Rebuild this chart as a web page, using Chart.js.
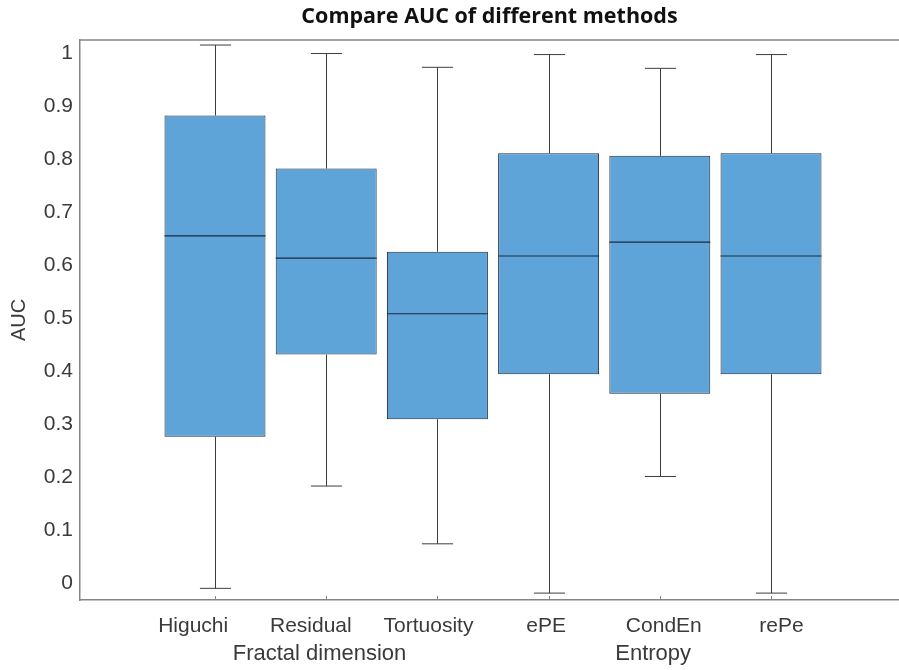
<!DOCTYPE html>
<html>
<head>
<meta charset="utf-8">
<script src="https://cdn.jsdelivr.net/npm/chart.js@4/dist/chart.umd.min.js"></script>
<style>
  html, body { margin: 0; padding: 0; background: #fff; }
  #wrap { width: 899px; height: 670px; }
</style>
</head>
<body>
<div id="wrap"><canvas id="aucChart" width="899" height="670"></canvas></div>
<script>
// box plot values
const methods = ['Higuchi', 'Residual', 'Tortuosity', 'ePE', 'CondEn', 'rePe'];
const whiskerLow = [-0.010, 0.183, 0.074, -0.019, 0.201, -0.019];
const quart1 = [0.276, 0.431, 0.309, 0.394, 0.357, 0.394];
const medians = [0.655, 0.613, 0.508, 0.617, 0.643, 0.617];
const quart3 = [0.882, 0.782, 0.625, 0.811, 0.806, 0.811];
const whiskerHigh = [1.015, 0.999, 0.973, 0.997, 0.971, 0.997];

const groupNames = ['Fractal dimension', 'Entropy'];
const groupSizes = [3, 3];

const yTicks = [0, 0.1, 0.2, 0.3, 0.4, 0.5, 0.6, 0.7, 0.8, 0.9, 1];

// centre of each group, in category units
var groupCenters = [];
var start = 0;
for (let g = 0; g < groupSizes.length; g++) {
    groupCenters.push(start + (groupSizes[g] - 1) / 2);
    start += groupSizes[g];
}

var boxData = methods.map(function (m, i) {
    return { x: i, y: [quart1[i], quart3[i]] };
});

var lineColor = '#1c2a3c';
var axisColor = '#858585';
var textColor = '#3a3a3a';
// the labels in the picture sit a little spread out from their ticks
var labelSpread = 0.058;
var groupShift = -0.06;

var boxExtras = {
    id: 'boxExtras',
    afterDatasetsDraw: function (chart) {
        var ctx = chart.ctx;
        var xs = chart.scales.x;
        var ys = chart.scales.y;
        var meta = chart.getDatasetMeta(0);
        var step = xs.getPixelForValue(1) - xs.getPixelForValue(0);
        var cap = step * 0.28;
        ctx.save();
        for (let i = 0; i < methods.length; i++) {
            var px = Math.round(xs.getPixelForValue(i)) + 0.5;
            var bar = meta.data[i];
            // whiskers
            ctx.strokeStyle = '#3d3d3d';
            ctx.lineWidth = 1;
            ctx.beginPath();
            ctx.moveTo(px, ys.getPixelForValue(quart3[i]));
            ctx.lineTo(px, ys.getPixelForValue(whiskerHigh[i]));
            ctx.moveTo(px, ys.getPixelForValue(quart1[i]));
            ctx.lineTo(px, ys.getPixelForValue(whiskerLow[i]));
            ctx.moveTo(px - cap / 2, ys.getPixelForValue(whiskerHigh[i]));
            ctx.lineTo(px + cap / 2, ys.getPixelForValue(whiskerHigh[i]));
            ctx.moveTo(px - cap / 2, ys.getPixelForValue(whiskerLow[i]));
            ctx.lineTo(px + cap / 2, ys.getPixelForValue(whiskerLow[i]));
            ctx.stroke();
            // median
            ctx.strokeStyle = lineColor;
            ctx.lineWidth = 1.2;
            ctx.beginPath();
            var my = ys.getPixelForValue(medians[i]);
            ctx.moveTo(bar.x - bar.width / 2, my);
            ctx.lineTo(bar.x + bar.width / 2, my);
            ctx.stroke();
            // small inner tick on the x axis
            ctx.strokeStyle = axisColor;
            ctx.lineWidth = 1;
            ctx.beginPath();
            ctx.moveTo(px, ys.bottom);
            ctx.lineTo(px, ys.bottom - 4);
            ctx.stroke();
        }
        // top frame line
        var area = chart.chartArea;
        ctx.strokeStyle = axisColor;
        ctx.lineWidth = 1.5;
        ctx.beginPath();
        ctx.moveTo(area.left, area.top);
        ctx.lineTo(area.right, area.top);
        ctx.stroke();
        ctx.restore();
    }
};

var ctx = document.getElementById('aucChart').getContext('2d');
var aucChart = new Chart(ctx, {
    type: 'bar',
    data: {
        datasets: [{
            data: boxData,
            backgroundColor: '#5fa4d9',
            borderColor: lineColor,
            borderWidth: 1,
            borderSkipped: false,
            barPercentage: 0.908,
            categoryPercentage: 1
        }]
    },
    options: {
        responsive: false,
        animation: false,
        layout: { padding: { left: 0, right: 0, top: 0, bottom: 0 } },
        plugins: {
            legend: { display: false },
            tooltip: { enabled: false },
            title: {
                display: true,
                fullSize: false,
                text: 'Compare AUC of different methods',
                color: '#111',
                font: { family: 'Open Sans', size: 21.5, weight: 'bold', lineHeight: 1.1 },
                padding: { top: 5, bottom: 11.35 }
            }
        },
        scales: {
            x: {
                type: 'linear',
                position: 'bottom',
                weight: 0,
                offset: false,
                min: -1.214,
                max: 6.151,
                grid: { display: false, drawTicks: false },
                border: { display: true, color: axisColor, width: 1.5 },
                afterBuildTicks: function (scale) {
                    var mid = 3.38;
                    scale.ticks = methods.map(function (m, i) {
                        return { value: i + (i - mid) * labelSpread };
                    });
                },
                ticks: {
                    autoSkip: false,
                    maxRotation: 0,
                    padding: 14,
                    color: textColor,
                    font: { family: 'Liberation Sans', size: 21 },
                    callback: function (v, index) { return methods[index]; }
                },
                afterFit: function (scale) { scale.height = 40; }
            },
            x2: {
                type: 'linear',
                position: 'bottom',
                weight: 1,
                offset: false,
                min: -1.214,
                max: 6.151,
                grid: { display: false, drawTicks: false },
                border: { display: false },
                afterBuildTicks: function (scale) {
                    scale.ticks = groupCenters.map(function (c) { return { value: c + groupShift }; });
                },
                ticks: {
                    autoSkip: false,
                    maxRotation: 0,
                    padding: 1,
                    color: textColor,
                    font: { family: 'Liberation Sans', size: 22 },
                    callback: function (v, index) { return groupNames[index]; }
                },
                afterFit: function (scale) { scale.height = 30; }
            },
            y: {
                type: 'linear',
                min: -0.032,
                max: 1.0245,
                grid: { display: false, drawTicks: false },
                border: { display: true, color: axisColor, width: 1.5 },
                afterBuildTicks: function (scale) {
                    scale.ticks = yTicks.map(function (v) { return { value: v }; });
                },
                ticks: {
                    padding: 7,
                    color: textColor,
                    font: { family: 'Liberation Sans', size: 21 },
                    callback: function (v) { return String(Math.round(v * 10) / 10); }
                },
                title: {
                    display: true,
                    text: 'AUC',
                    color: textColor,
                    font: { family: 'Liberation Sans', size: 20 },
                    padding: { top: 7, bottom: 0 }
                },
                afterFit: function (scale) { scale.width = 80; }
            }
        }
    },
    plugins: [boxExtras]
});
</script>
</body>
</html>
